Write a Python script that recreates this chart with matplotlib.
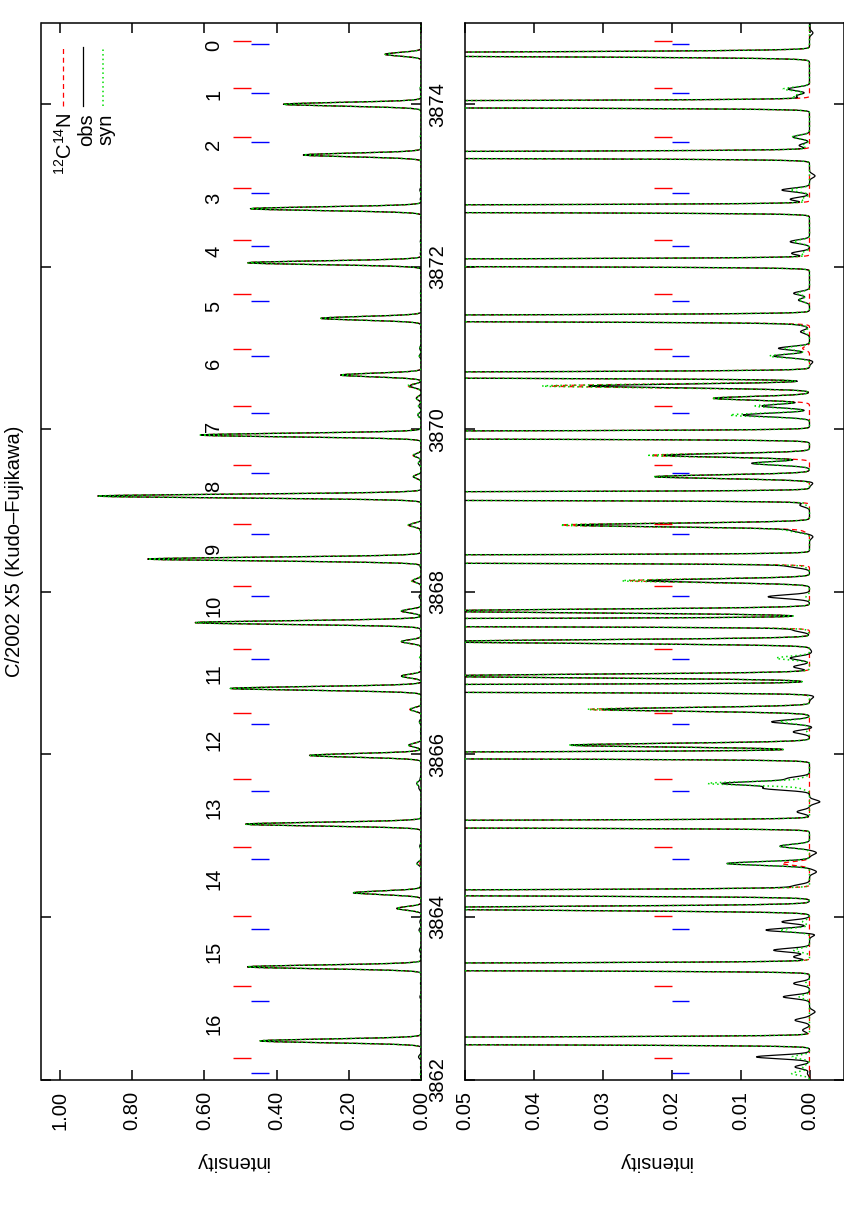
import numpy as np
import matplotlib
matplotlib.use("Agg")
import matplotlib.pyplot as plt

plt.rcParams['font.family'] = ['Liberation Sans', 'DejaVu Sans']
plt.rcParams['mathtext.fontset'] = 'custom'
plt.rcParams['mathtext.rm'] = 'Liberation Sans'
plt.rcParams['mathtext.it'] = 'Liberation Sans:italic'

# ---------------- data ----------------
# strong 12C14N R-branch lines, numbered 0..16
main_wl = [3874.615, 3874.000, 3873.376, 3872.715, 3872.050, 3871.366, 3870.668,
           3869.930, 3869.179, 3868.404, 3867.622, 3866.812, 3865.988, 3865.142,
           3864.297, 3863.386, 3862.475]
main_amp = [0.100, 0.381, 0.326, 0.473, 0.481, 0.278, 0.223, 0.613, 0.895, 0.756,
            0.627, 0.528, 0.309, 0.487, 0.188, 0.482, 0.446]

# weaker features: wavelength, observed, synthetic (total), synthetic 12C14N only
sec_wl = [3874.878, 3874.188, 3874.102, 3873.597, 3873.493, 3873.118, 3872.945, 3872.831,
          3872.309, 3872.166, 3871.674, 3871.591, 3871.296, 3871.201, 3870.997, 3870.902,
          3870.832, 3870.533, 3870.382, 3870.287, 3870.176, 3869.680, 3869.582, 3869.417,
          3869.339, 3869.068, 3868.822, 3868.752, 3868.678, 3868.318, 3868.137, 3867.940,
          3867.764, 3867.530, 3867.388, 3867.263, 3867.185, 3867.078, 3866.964, 3866.709,
          3866.554, 3866.401, 3866.327, 3866.278, 3866.114, 3865.705, 3865.643, 3865.582,
          3865.417, 3865.294, 3864.871, 3864.789, 3864.658, 3864.555, 3864.379, 3864.105,
          3863.940, 3863.838, 3863.788, 3863.591, 3863.509, 3863.182, 3863.017, 3862.832,
          3862.730, 3862.607, 3862.278, 3862.155, 3862.074]
sec_obs = [-0.0005, 0.0031, 0.0019, 0.0024, 0.0015, -0.0008, 0.0040, 0.0028,
           0.0028, 0.0026, 0.0023, 0.0016, 0.0015, 0.0013, 0.0045, 0.0052,
           -0.0005, 0.0320, 0.0139, 0.0069, 0.0096, 0.0210, 0.0084, 0.0224,
           -0.0005, 0.0014, 0.0337, 0.0023, -0.0005, 0.0030, 0.0236, 0.0060,
           0.0550, 0.0023, 0.0550, -0.0003, 0.0028, 0.0023, 0.0550, -0.0006,
           0.0301, 0.0055, -0.0005, 0.0024, 0.0347, 0.0030, 0.0125, 0.0064,
           -0.0015, 0.0018, 0.0043, -0.0010, 0.0120, -0.0010, 0.0023, 0.0680,
           0.0040, 0.0064, -0.0010, 0.0052, 0.0023, 0.0023, 0.0038, -0.0008,
           0.0021, 0.0010, 0.0077, 0.0021, 0.0003]
sec_syn = [0.0, 0.0038, 0.0023, 0.0025, 0.0010, 0.0, 0.0028, 0.0012,
           0.0023, 0.0012, 0.0018, 0.0016, 0.0012, 0.0008, 0.0037, 0.0058,
           0.0, 0.0388, 0.0142, 0.0079, 0.0115, 0.0233, 0.0080, 0.0226,
           0.0, 0.0005, 0.0362, 0.0028, 0.0, 0.0008, 0.0272, 0.0005,
           0.0550, 0.0003, 0.0550, 0.0, 0.0048, 0.0, 0.0550, 0.0,
           0.0323, 0.0043, 0.0, 0.0004, 0.0350, 0.0010, 0.0147, 0.0010,
           0.0, 0.0, 0.0043, 0.0, 0.0120, 0.0, 0.0, 0.0680,
           0.0010, 0.0043, 0.0, 0.0023, 0.0, 0.0006, 0.0015, 0.0,
           0.0, 0.0, 0.0025, 0.0010, 0.0026]
sec_12c = [0.0, 0.0, 0.0, 0.0, 0.0, 0.0, 0.0, 0.0,
           0.0, 0.0, 0.0, 0.0, 0.0, 0.0, 0.0010, 0.0,
           0.0, 0.0375, 0.0140, 0.0, 0.0, 0.0230, 0.0, 0.0225,
           0.0, 0.0, 0.0360, 0.0008, 0.0, 0.0, 0.0260, 0.0,
           0.0550, 0.0, 0.0550, 0.0, 0.0, 0.0, 0.0550, 0.0,
           0.0320, 0.0, 0.0, 0.0, 0.0340, 0.0, 0.0, 0.0,
           0.0, 0.0, 0.0, 0.0, 0.0040, 0.0, 0.0, 0.0680,
           0.0, 0.0, 0.0, 0.0, 0.0, 0.0, 0.0, 0.0,
           0.0, 0.0, 0.0, 0.0, 0.0]

# line-position marks
red_mark_wl = [3874.779, 3874.197, 3873.594, 3872.966, 3872.326, 3871.662, 3870.985,
               3870.283, 3869.564, 3868.831, 3868.075, 3867.300, 3866.505, 3865.696,
               3864.865, 3864.010, 3863.148, 3862.262]
blue_mark_wl = [3874.738, 3874.143, 3873.532, 3872.905, 3872.252, 3871.583, 3870.898,
                3870.197, 3869.466, 3868.715, 3867.952, 3867.169, 3866.373, 3865.552,
                3864.711, 3863.854, 3862.972, 3862.074]

# line-number labels
label_text = [str(n) for n in range(17)]
label_wl = [3874.73, 3874.12, 3873.50, 3872.84, 3872.19, 3871.51, 3870.81, 3870.04,
            3869.30, 3868.54, 3867.83, 3867.00, 3866.18, 3865.34, 3864.47, 3863.57,
            3862.68]

top_ticks = [0.0, 0.2, 0.4, 0.6, 0.8, 1.0]
bot_ticks = [0.0, 0.01, 0.02, 0.03, 0.04, 0.05]
wl_ticks = [3862, 3864, 3866, 3868, 3870, 3872, 3874]

# ---------------- build spectra from the line lists ----------------
SIG = 0.0225
grid = np.arange(3862.0, 3875.0001, 0.004)


def spec(wls, amps):
    out = np.zeros_like(grid)
    for w, a in zip(wls, amps):
        out += a * np.exp(-0.5 * ((grid - w) / SIG) ** 2)
    return out


base = spec(main_wl, main_amp)
c12 = base + spec(sec_wl, sec_12c)
obs = base + spec(sec_wl, sec_obs)
syn = base + spec(sec_wl, sec_syn)

# ---------------- figure ----------------
FS = 14.5
fig = plt.figure(figsize=(8.45, 12.07), dpi=100)
W, H = 845.0, 1207.0
y0 = (H - 1079.5) / H
hh = (1079.5 - 23.0) / H
ax1 = fig.add_axes([41.5 / W, y0, (421.3 - 41.5) / W, hh])
ax2 = fig.add_axes([464.5 / W, y0, (844.0 - 464.5) / W, hh])

for ax in (ax1, ax2):
    ax.plot(c12, grid, color='#ff0000', lw=0.9, ls=(0, (4, 3)), zorder=2)
    ax.plot(obs, grid, color='black', lw=0.9, zorder=3)
    ax.plot(syn, grid, color='#00dd00', lw=1.1, ls=(0, (1, 2)), zorder=4)
    ax.set_ylim(3862, 3875)
    ax.set_yticks(wl_ticks)
    for s in ax.spines.values():
        s.set_linewidth(1.1)
    ax.tick_params(axis='both', direction='in', length=7, width=1.1,
                   top=True, bottom=True, left=True, right=True, labelsize=FS)
    ax.tick_params(axis='x', labelrotation=90, pad=8.5)
    ax.set_xlabel('intensity', rotation=180, fontsize=FS, va='center')
    ax.xaxis.set_label_coords(0.5, -0.0776)

ax1.set_xlim(1.05, 0.0)
ax1.set_xticks(top_ticks)
ax1.xaxis.set_major_formatter('{x:.2f}')
ax1.tick_params(axis='y', labelleft=False, labelright=True, labelrotation=90, pad=5)
for t in ax1.yaxis.get_major_ticks():
    t.label2.set_va('center')

ax2.set_xlim(0.05, -0.005)
ax2.set_xticks(bot_ticks)
ax2.xaxis.set_major_formatter('{x:.2f}')
ax2.tick_params(axis='y', labelleft=False, labelright=False)

# marks
ax1.hlines(red_mark_wl, 0.47, 0.52, color='#ff0000', lw=1.0, zorder=5)
ax1.hlines(blue_mark_wl, 0.42, 0.47, color='#0000ff', lw=1.0, zorder=5)
ax2.hlines(red_mark_wl, 0.02, 0.0225, color='#ff0000', lw=1.0, zorder=5)
ax2.hlines(blue_mark_wl, 0.0175, 0.02, color='#0000ff', lw=1.0, zorder=5)

# line numbers
for txt, w in zip(label_text, label_wl):
    ax1.text(0.574, w, txt, rotation=90, ha='center', va='center', fontsize=FS)

# legend (rotated, drawn by hand)
leg = [(r'$^{12}$C$^{14}$N', dict(color='#ff0000', lw=0.9, ls=(0, (4, 3)))),
       ('obs', dict(color='black', lw=0.9)),
       ('syn', dict(color='#00dd00', lw=1.1, ls=(0, (1, 2))))]
for i, (lab, kw) in enumerate(leg):
    xs = (62.7 + 20 * i - 41.5) / (421.3 - 41.5)
    ax1.plot([xs, xs], [0.9213, 0.9773], transform=ax1.transAxes, **kw)
    xb = (71.7 + 20 * i - 41.5) / (421.3 - 41.5)
    ax1.text(xb, 0.9146, lab, transform=ax1.transAxes, rotation=90,
             rotation_mode='anchor', ha='right', va='baseline', fontsize=FS)

fig.text(15 / W, 1 - 551.5 / H, 'C/2002 X5 (Kudo\u2013Fujikawa)', rotation=90,
         ha='center', va='center', fontsize=FS)

fig.savefig('out.png', dpi=100, facecolor='white')
